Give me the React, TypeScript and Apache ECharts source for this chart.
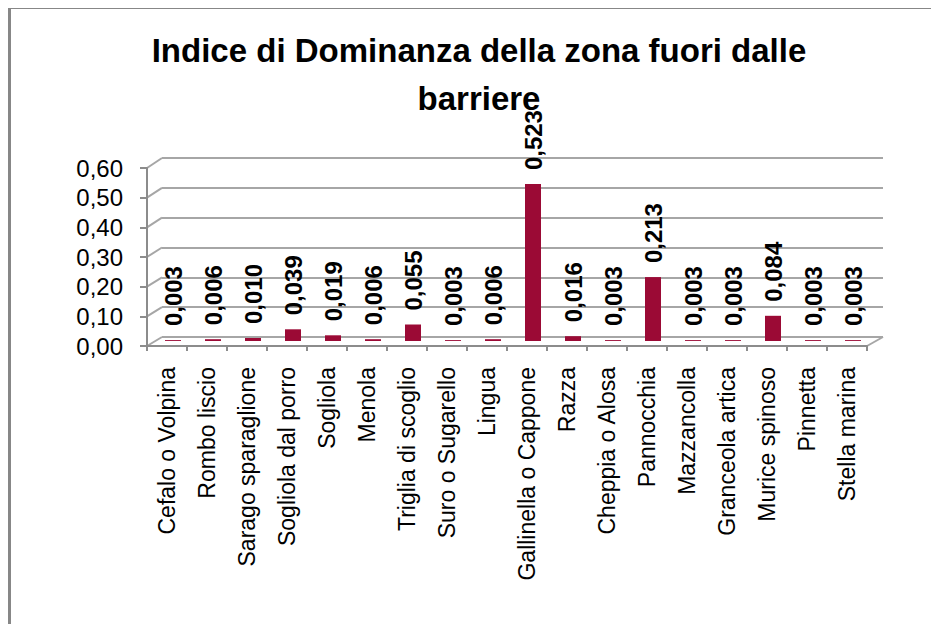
import React, { useEffect, useRef } from "react";
import * as echarts from "echarts";

const categories = [
  "Cefalo o Volpina",
  "Rombo liscio",
  "Sarago sparaglione",
  "Sogliola dal porro",
  "Sogliola",
  "Menola",
  "Triglia di scoglio",
  "Suro o Sugarello",
  "Lingua",
  "Gallinella o Cappone",
  "Razza",
  "Cheppia o Alosa",
  "Pannocchia",
  "Mazzancolla",
  "Granceola artica",
  "Murice spinoso",
  "Pinnetta",
  "Stella marina",
];
const values = [
  0.003, 0.006, 0.01, 0.039, 0.019, 0.006, 0.055, 0.003, 0.006, 0.523, 0.016,
  0.003, 0.213, 0.003, 0.003, 0.084, 0.003, 0.003,
];
const yTicks = [0, 0.1, 0.2, 0.3, 0.4, 0.5, 0.6];
const titleText = "Indice di Dominanza della zona fuori dalle\nbarriere";

const FONT = "'Liberation Sans', Arial, sans-serif";
const BACK = { left: 151, top: 149, width: 721, height: 179 };
const MID = { left: 142, top: 152, width: 720, height: 180 };
const FRONT = { left: 136, top: 159, width: 720, height: 178 };
const AXIS_GRAY = "#8c8c8c";

const comma = (v: number, d: number) => v.toFixed(d).replace(".", ",");

export default function App() {
  const ref = useRef<HTMLDivElement>(null);
  useEffect(() => {
    if (!ref.current) return;
    const chart = echarts.init(ref.current, null, { renderer: "svg" });
    chart.setOption({
      animation: false,
      backgroundColor: "#ffffff",
      title: {
        text: titleText,
        left: 463,
        textAlign: "center",
        top: 12,
        textStyle: {
          fontFamily: FONT,
          fontSize: 33,
          fontWeight: "bold",
          color: "#000",
          lineHeight: 48,
        },
      },
      grid: [
        { ...BACK, containLabel: false },
        { ...MID, containLabel: false },
        { ...FRONT, containLabel: false },
      ],
      xAxis: [
        { gridIndex: 0, type: "category", data: categories, show: false },
        { gridIndex: 1, type: "category", data: categories, show: false },
        {
          gridIndex: 2,
          type: "category",
          data: categories,
          axisLine: { show: true, lineStyle: { color: AXIS_GRAY, width: 2 } },
          axisTick: {
            show: true,
            length: 5,
            lineStyle: { color: AXIS_GRAY, width: 2 },
          },
          axisLabel: {
            rotate: 90,
            interval: 0,
            fontSize: 23,
            fontFamily: FONT,
            color: "#000",
            margin: 21,
          },
          splitLine: { show: false },
        },
      ],
      yAxis: [
        {
          gridIndex: 0,
          type: "value",
          min: 0,
          max: 0.6,
          interval: 0.1,
          axisLabel: { show: false },
          axisLine: { show: false },
          axisTick: { show: false },
          splitLine: { show: true, lineStyle: { color: "#a6a6a6", width: 2 } },
        },
        { gridIndex: 1, type: "value", min: 0, max: 0.6, interval: 0.1, show: false },
        {
          gridIndex: 2,
          type: "value",
          min: 0,
          max: 0.6,
          interval: 0.1,
          axisLine: { show: true, lineStyle: { color: AXIS_GRAY, width: 2 } },
          axisTick: {
            show: true,
            length: 7,
            lineStyle: { color: AXIS_GRAY, width: 2 },
          },
          axisLabel: {
            formatter: (v: number) => comma(v, 2),
            fontSize: 24,
            fontFamily: FONT,
            color: "#000",
            margin: 24,
          },
          splitLine: { show: false },
        },
      ],
      series: [
        {
          type: "bar",
          xAxisIndex: 1,
          yAxisIndex: 1,
          data: values,
          barWidth: 16,
          itemStyle: { color: "#9b0a35" },
          label: {
            show: true,
            position: "top",
            distance: 14,
            rotate: 90,
            align: "left",
            verticalAlign: "middle",
            fontFamily: FONT,
            fontSize: 24,
            fontWeight: "bold",
            color: "#000",
            formatter: (p: any) => comma(p.value, 3),
          },
        },
      ],
    });

    // 3D-style connectors between the front axis and the back wall
    const lines: any[] = [];
    yTicks.forEach((v) => {
      const yf = chart.convertToPixel({ yAxisIndex: 2 }, v) as number;
      const yb = chart.convertToPixel({ yAxisIndex: 0 }, v) as number;
      lines.push({
        type: "line",
        shape: { x1: FRONT.left, y1: yf, x2: BACK.left, y2: yb },
        style: { stroke: "#a6a6a6", lineWidth: 2 },
        silent: true,
      });
    });
    const yf0 = chart.convertToPixel({ yAxisIndex: 2 }, 0) as number;
    const yb0 = chart.convertToPixel({ yAxisIndex: 0 }, 0) as number;
    lines.push({
      type: "line",
      shape: {
        x1: FRONT.left + FRONT.width,
        y1: yf0,
        x2: BACK.left + BACK.width,
        y2: yb0,
      },
      style: { stroke: "#a6a6a6", lineWidth: 2 },
      silent: true,
    });
    chart.setOption({ graphic: lines });

    return () => chart.dispose();
  }, []);

  return (
    <div
      style={{
        position: "relative",
        width: 931,
        height: 618,
        boxSizing: "border-box",
        borderTop: "3px solid #878787",
        borderLeft: "3px solid #878787",
        marginTop: -2,
        background: "#fff",
      }}
    >
      <div
        ref={ref}
        style={{ position: "absolute", left: 0, top: 0, width: 928, height: 615 }}
      />
    </div>
  );
}
